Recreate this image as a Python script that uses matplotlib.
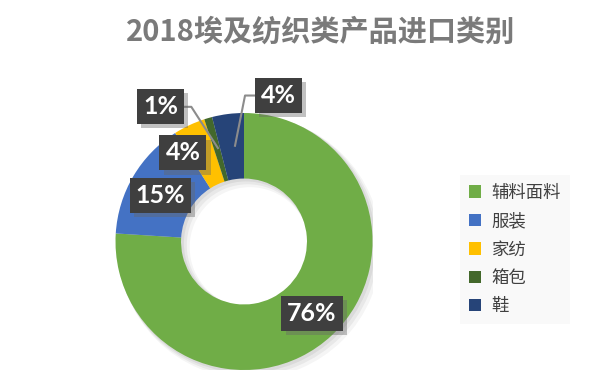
import matplotlib
matplotlib.use('Agg')
import matplotlib.pyplot as plt
import matplotlib.patches as mpatches
import matplotlib.patheffects as pe

plt.rcParams['font.family'] = ['Noto Sans CJK SC', 'DejaVu Sans']

# datos
categorias = ['辅料面料', '服装', '家纺', '箱包', '鞋']
porcentajes = [76, 15, 4, 1, 4]
colores = ['#70AD47', '#4472C4', '#FFC000', '#43682B', '#264478']
titulo = '2018埃及纺织类产品进口类别'

# posiciones de las etiquetas (coordenadas de datos)
pos_etq = [(0.53, -0.56), (-0.65, 0.36), (-0.475, 0.69), (-0.65, 1.05), (0.265, 1.14)]

W, H = 605, 390
fig = plt.figure(figsize=(W / 100, H / 100), dpi=100)
fig.patch.set_facecolor('white')

cx, cy, R = 244, 241.5, 128.5
ax = fig.add_axes([(cx - R) / W, (H - cy - R) / H, 2 * R / W, 2 * R / H])
ax.set_aspect('equal')
ax.axis('off')

# sombra suave
for dx, a in [(0.045, 0.04), (0.03, 0.05), (0.015, 0.06)]:
    ax.add_patch(mpatches.Wedge((dx, -dx), 1.0 + dx / 2, 0, 360, width=0.51 + dx,
                                facecolor='black', alpha=a, edgecolor='none', zorder=0))

wedges, _ = ax.pie(porcentajes, colors=colores, startangle=90, counterclock=False,
                   radius=1.0, wedgeprops=dict(width=0.51, edgecolor='none'))
for w in wedges:
    w.set_zorder(2)
ax.set_xlim(-1, 1)
ax.set_ylim(-1, 1)

# lineas guia para las porciones pequenas
guias = [
    [(-0.48, 1.048), (-0.41, 1.048), (-0.203, 0.727)],
    [(0.10, 1.136), (0.008, 1.136), (-0.07, 0.745)],
]
for g in guias:
    xs, ys = zip(*g)
    ax.plot(xs, ys, color='#8c8c8c', lw=1.5, zorder=3, clip_on=False)

for (x, y), p in zip(pos_etq, porcentajes):
    t = ax.text(x, y, f'{p}%', ha='center', va='center', color='white',
                fontsize=18, fontweight='bold', family=['Lato', 'DejaVu Sans'],
                zorder=5,
                bbox=dict(boxstyle='square,pad=0.24', facecolor='#3f3f3f',
                          edgecolor='none'))
    t.get_bbox_patch().set_path_effects([
        pe.SimplePatchShadow(offset=(3, -3), shadow_rgbFace='#666666', alpha=0.4),
        pe.Normal()])

fig.text(321 / W, 1 - 32 / H, titulo, ha='center', va='center', fontsize=21,
         fontweight='bold', color='#7a7a7a')

handles = [mpatches.Patch(facecolor=c, edgecolor='none') for c in colores]
fig.legend(handles, categorias, loc='upper left', bbox_to_anchor=(460 / W, 1 - 175 / H),
           borderaxespad=0, frameon=True, facecolor='#f8f8f8', edgecolor='none',
           fancybox=False, fontsize=12.5, handlelength=0.72, handleheight=0.72,
           handletextpad=0.6, labelspacing=0.6, borderpad=0.5, labelcolor='#404040')

fig.savefig('out.png', dpi=100)
